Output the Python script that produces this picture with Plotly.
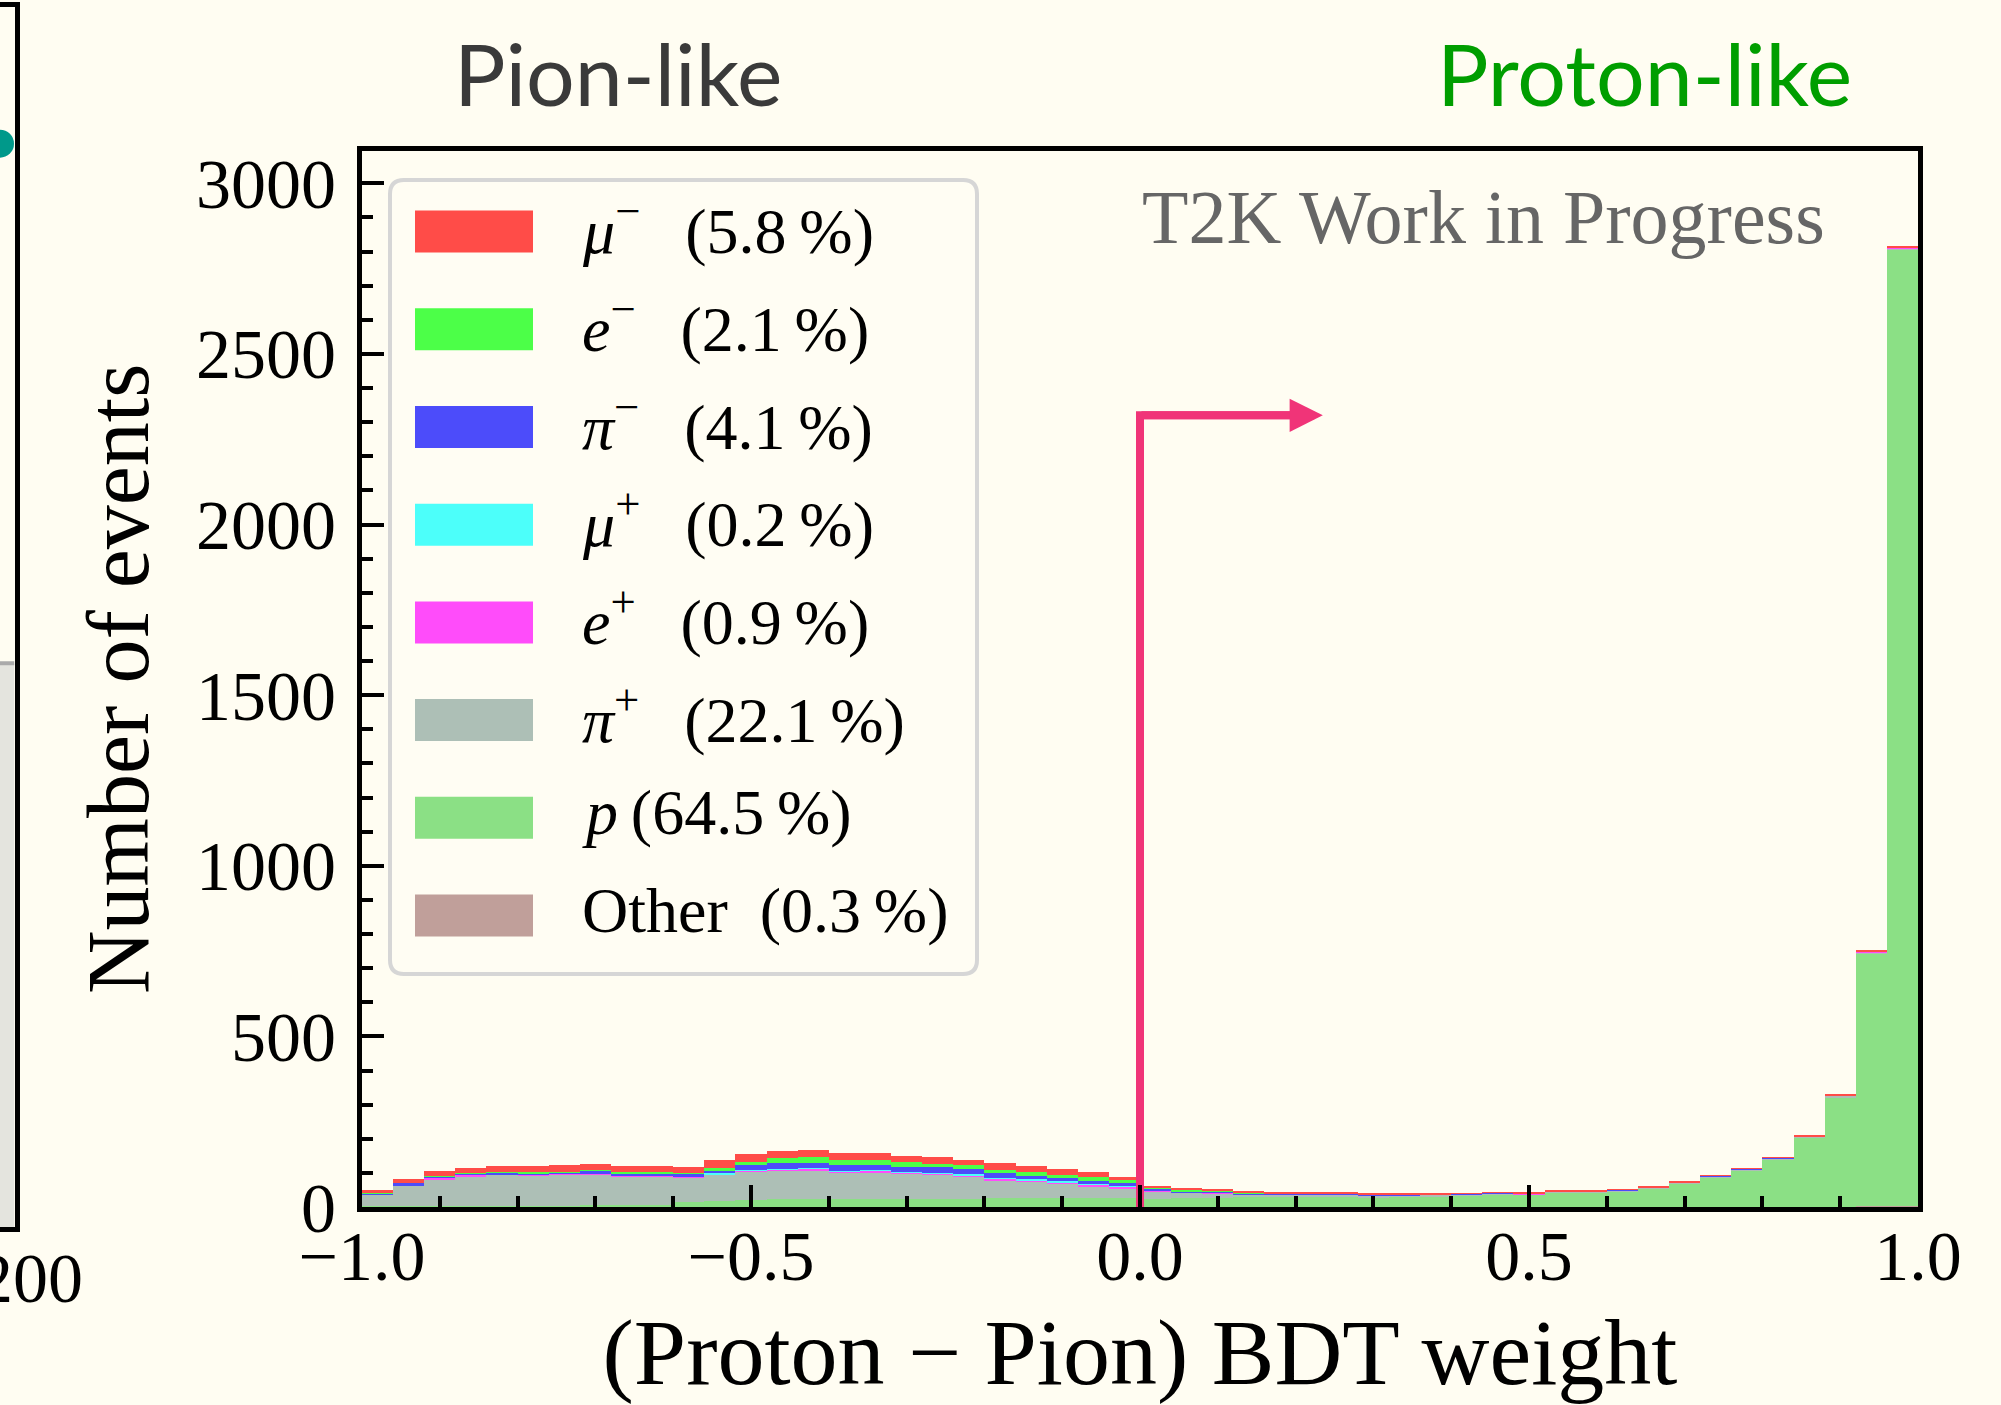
import plotly.graph_objects as go

# ---------------- data ----------------
bin_lo, bin_hi, n_bins = -1.0, 1.0, 50

# stacked counts per bin (bottom -> top order of stacking: other, proton, pi+, e+, mu+, pi-, e-, mu-)
other = [0, 0, 0, 0, 0, 0, 0, 0, 0, 0,
         1, 1, 1, 1, 1, 1, 1, 1, 1, 1,
         1, 1, 1, 1, 1, 0, 0, 0, 0, 0,
         0, 0, 0, 0, 0, 0, 0, 0, 0, 0,
         0, 0, 0, 0, 0, 0, 0, 1, 2, 3]
proton = [2, 2, 3, 3, 3, 3, 4, 5, 6, 7,
          13, 17, 20, 22, 22, 22, 22, 22, 22, 23,
          24, 24, 24, 24, 26, 23, 26, 27, 29, 33,
          32, 33, 27, 31, 33, 35, 38, 37, 44, 44,
          48, 56, 70, 89, 109, 141, 204, 322, 741, 2800]
pi_plus = [35, 61, 80, 89, 94, 91, 92, 92, 85, 84,
           73, 79, 84, 85, 86, 79, 81, 77, 73, 68,
           55, 50, 44, 36, 30, 25, 17, 14, 8, 4,
           5, 5, 7, 4, 4, 2, 2, 2, 2, 2,
           2, 2, 2, 2, 2, 3, 3, 4, 5, 8]
e_plus = [1, 1, 1, 1, 1, 1, 1, 1, 1, 1,
          1, 1, 2, 2, 4, 3, 3, 2, 4, 3,
          5, 5, 5, 5, 5, 3, 2, 2, 1, 1,
          1, 0, 1, 1, 0, 1, 1, 1, 0, 0,
          0, 0, 0, 0, 0, 0, 0, 0, 1, 1]
mu_plus = [0, 0, 0, 0, 0, 0, 0, 0, 0, 0,
           0, 1, 1, 1, 1, 1, 1, 1, 1, 1,
           1, 1, 1, 1, 1, 0, 0, 0, 0, 0,
           0, 0, 0, 0, 0, 0, 0, 0, 0, 0,
           0, 0, 0, 0, 0, 0, 0, 0, 0, 0]
pi_minus = [3, 5, 6, 6, 4, 6, 6, 9, 9, 9,
            11, 10, 15, 17, 16, 16, 16, 15, 16, 14,
            15, 11, 9, 9, 6, 4, 3, 3, 3, 3,
            2, 2, 3, 2, 2, 2, 2, 2, 2, 2,
            2, 2, 2, 2, 2, 2, 2, 2, 2, 2]
e_minus = [1, 0, 1, 1, 1, 1, 1, 1, 1, 2,
           1, 5, 10, 15, 16, 16, 13, 13, 10, 12,
           8, 10, 10, 11, 9, 4, 4, 3, 2, 1,
           1, 1, 1, 0, 0, 0, 0, 0, 0, 0,
           0, 0, 0, 0, 0, 0, 0, 0, 0, 0]
mu_minus = [7, 14, 15, 14, 16, 18, 18, 18, 17, 17,
            18, 23, 22, 22, 22, 21, 20, 19, 20, 17,
            19, 19, 18, 15, 10, 3, 4, 4, 4, 2,
            2, 2, 2, 2, 2, 1, 1, 1, 1, 1,
            1, 1, 1, 1, 1, 1, 1, 1, 1, 1]

# legend (top -> bottom)
legend_keys = ["mu-", "e-", "pi-", "mu+", "e+", "pi+", "p", "Other"]
legend_labels = [
    "<i>μ</i><sup>−</sup>\u2002\u2009(5.8\u2009%)",
    "<i>e</i><sup>−</sup>\u2002\u2009(2.1\u2009%)",
    "<i>π</i><sup>−</sup>\u2002\u2009(4.1\u2009%)",
    "<i>μ</i><sup>+</sup>\u2002\u2009(0.2\u2009%)",
    "<i>e</i><sup>+</sup>\u2002\u2009(0.9\u2009%)",
    "<i>π</i><sup>+</sup>\u2002\u2009(22.1\u2009%)",
    "<i>p</i>\u2009(64.5\u2009%)",
    "Other\u2002(0.3\u2009%)",
]
colors = {"mu-": "#ff4c48", "e-": "#4cff48", "pi-": "#4c4cfa", "mu+": "#4cfffa",
          "e+": "#ff4cfa", "pi+": "#adbfb6", "p": "#8be085", "Other": "#c09f9a"}
series = {"Other": other, "p": proton, "pi+": pi_plus, "e+": e_plus,
          "mu+": mu_plus, "pi-": pi_minus, "e-": e_minus, "mu-": mu_minus}
stack_order = ["Other", "p", "pi+", "e+", "mu+", "pi-", "e-", "mu-"]

x_ticks = [-1.0, -0.5, 0.0, 0.5, 1.0]
y_ticks = [0, 500, 1000, 1500, 2000, 2500, 3000]
y_max = 3096

cut_x = 0.0          # BDT cut
arrow_y = 2320
arrow_tip_x = 0.235

# neighbouring (cropped) panel on the far left
left_x = [190, 200]
left_band = [0.462, 0.462]
left_dot_x = [190]
left_dot_y = [0.888]

# ---------------- figure ----------------
W, H = 2001, 1405
BG = "#fffdf2"
PINK = "#f03478"
SERIF = "Liberation Serif"

def px(x):
    return x / W

def py(y):
    return 1 - y / H

bw = (bin_hi - bin_lo) / n_bins
centers = [bin_lo + bw * (i + 0.5) for i in range(n_bins)]

fig = go.Figure()
for key in stack_order:
    fig.add_trace(go.Bar(
        x=centers, y=series[key], width=bw, name=key, showlegend=False,
        marker=dict(color=colors[key], line=dict(width=0)),
        xaxis="x", yaxis="y", hoverinfo="x+y+name"))

fig.add_trace(go.Scatter(
    x=[cut_x, cut_x, arrow_tip_x - 0.03], y=[0, arrow_y, arrow_y], mode="lines",
    line=dict(color=PINK, width=8), showlegend=False, hoverinfo="skip",
    xaxis="x", yaxis="y"))

# left cropped panel
fig.add_trace(go.Scatter(
    x=left_x, y=left_band, mode="lines", fill="tozeroy", fillcolor="#e4e4de",
    line=dict(color="#aaaaaa", width=4), showlegend=False, hoverinfo="skip",
    xaxis="x2", yaxis="y2"))
fig.add_trace(go.Scatter(
    x=left_dot_x, y=left_dot_y, mode="markers",
    marker=dict(color="#00998a", size=28, line=dict(width=0)),
    showlegend=False, hoverinfo="skip", xaxis="x2", yaxis="y2"))

tick_font = dict(family=SERIF, size=70, color="black")

fig.update_layout(
    width=W, height=H, margin=dict(l=0, r=0, t=0, b=0),
    paper_bgcolor=BG, plot_bgcolor=BG, barmode="stack",
    font=dict(family=SERIF, color="black"),
    xaxis=dict(
        domain=[px(362), px(1918)], range=[bin_lo, bin_hi], anchor="y",
        showline=True, linecolor="black", linewidth=5, mirror=True,
        ticks="inside", ticklen=22, tickwidth=4, tickcolor="black",
        tickvals=x_ticks, tickformat=".1f", tickfont=tick_font,
        ticklabelstandoff=-16,
        minor=dict(ticks="inside", ticklen=11, tickwidth=3.5, dtick=0.1,
                   tickcolor="black", showgrid=False),
        showgrid=False, zeroline=False, automargin=False,
        title=dict(text="(Proton − Pion) BDT weight",
                   font=dict(family=SERIF, size=94, color="black"), standoff=26),
        layer="above traces",
    ),
    yaxis=dict(
        domain=[py(1207), py(150.5)], range=[0, y_max], anchor="x",
        showline=True, linecolor="black", linewidth=5, mirror=True,
        ticks="inside", ticklen=22, tickwidth=4, tickcolor="black",
        tickvals=y_ticks, tickfont=tick_font, ticklabelstandoff=7,
        minor=dict(ticks="inside", ticklen=11, tickwidth=3.5, dtick=100,
                   tickcolor="black", showgrid=False),
        showgrid=False, zeroline=False, automargin=False,
        title=dict(text="Number of events",
                   font=dict(family=SERIF, size=88, color="black"), standoff=20),
        layer="above traces",
    ),
    xaxis2=dict(
        domain=[0, px(14.5)], range=[left_x[0], left_x[1]], anchor="y2",
        showline=True, linecolor="black", linewidth=5, mirror=True,
        ticks="", tickvals=[200], ticktext=["200"], tickfont=tick_font,
        ticklabelstandoff=-14, ticklabelshift=16, ticklabeloverflow="allow",
        showgrid=False, zeroline=False, automargin=False, layer="above traces",
    ),
    yaxis2=dict(
        domain=[py(1227), py(7)], range=[0, 1], anchor="x2", side="right",
        showline=True, linecolor="black", linewidth=5, mirror=False,
        ticks="", showticklabels=False, showgrid=False, zeroline=False,
        automargin=False, layer="above traces",
    ),
)

annotations = [
    dict(x=arrow_tip_x, y=arrow_y, ax=cut_x, ay=arrow_y, xref="x", yref="y",
         axref="x", ayref="y", showarrow=True, arrowhead=2, arrowwidth=8,
         arrowsize=0.83, arrowcolor=PINK, text="", standoff=0),
    dict(x=px(618), y=py(72), xref="paper", yref="paper", showarrow=False,
         text="Pion-like", font=dict(family="Lato", size=86, color="#3a3a3a"),
         xanchor="center", yanchor="middle"),
    dict(x=px(1644), y=py(72), xref="paper", yref="paper", showarrow=False,
         text="Proton-like", font=dict(family="Lato", size=86, color="#009e00"),
         xanchor="center", yanchor="middle"),
    dict(x=px(1483), y=py(217), xref="paper", yref="paper", showarrow=False,
         text="T2K Work in Progress", font=dict(family=SERIF, size=76, color="#666666"),
         xanchor="center", yanchor="middle"),
]

# legend box (rounded rectangle) drawn by hand to match the wide swatches
bx0, bx1, by0, by1, r = 390, 977, 180, 974, 14
path = (f"M {px(bx0 + r)},{py(by0)} L {px(bx1 - r)},{py(by0)} "
        f"Q {px(bx1)},{py(by0)} {px(bx1)},{py(by0 + r)} "
        f"L {px(bx1)},{py(by1 - r)} Q {px(bx1)},{py(by1)} {px(bx1 - r)},{py(by1)} "
        f"L {px(bx0 + r)},{py(by1)} Q {px(bx0)},{py(by1)} {px(bx0)},{py(by1 - r)} "
        f"L {px(bx0)},{py(by0 + r)} Q {px(bx0)},{py(by0)} {px(bx0 + r)},{py(by0)} Z")
shapes = [dict(type="path", path=path, xref="paper", yref="paper",
               line=dict(color="#d6d6d6", width=4), fillcolor="rgba(255,253,242,0.8)",
               layer="above")]
row0, row_step = 231.6, 97.7
for i, (key, label) in enumerate(zip(legend_keys, legend_labels)):
    yc = row0 + i * row_step
    shapes.append(dict(type="rect", xref="paper", yref="paper",
                       x0=px(415), x1=px(533), y0=py(yc - 21), y1=py(yc + 21),
                       fillcolor=colors[key], line=dict(width=0), layer="above"))
    annotations.append(dict(x=px(580), y=py(yc - 5), xref="paper", yref="paper",
                            showarrow=False, text=label, xanchor="left", yanchor="middle",
                            font=dict(family=SERIF, size=64, color="black")))

fig.update_layout(shapes=shapes, annotations=annotations)
fig.write_html(
    "out.html",
    config={"displayModeBar": False},
    post_script=("document.body.style.margin='0';"
                 "document.body.style.background='#fffdf2';"
                 "document.documentElement.style.overflow='hidden';"),
)
